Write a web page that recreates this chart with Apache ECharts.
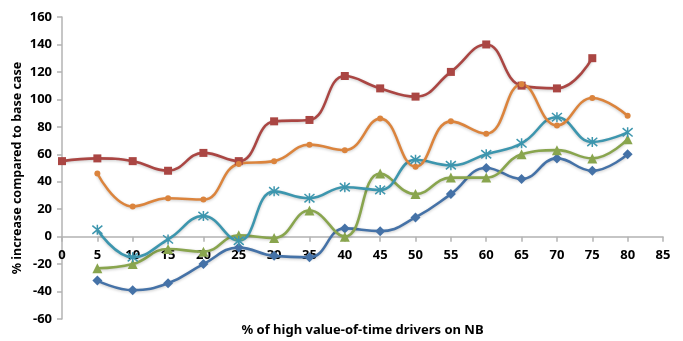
<!DOCTYPE html>
<html>
<head>
<meta charset="utf-8">
<script src="https://cdn.jsdelivr.net/npm/echarts@6/dist/echarts.min.js"></script>
<style>
html,body{margin:0;padding:0;background:#fff;}
#c{width:683px;height:341px;}
</style>
</head>
<body>
<div id="c"></div>
<script>
// X positions (% of high value-of-time drivers on NB)
const xFrom5 = [5,10,15,20,25,30,35,40,45,50,55,60,65,70,75,80];
const xFrom0 = [0,5,10,15,20,25,30,35,40,45,50,55,60,65,70,75];
// Series values (% increase compared to base case)
const blueVals   = [-32,-39,-34,-20,-8,-14,-15,6,4,14,31,50,42,57,48,60];
const redVals    = [55,57,55,48,61,55,84,85,117,108,102,120,140,110,108,130];
const greenVals  = [-23,-20,-9,-11,1,-1,19,0,46,31,43,43,60,63,57,71];
const tealVals   = [5,-15,-2,15,-3,33,28,36,34,56,52,60,68,87,69,76];
const orangeVals = [46,22,28,27,53,55,67,63,86,51,84,75,111,81,101,88];
// Axis settings
const xMin = 0, xMax = 85, xStep = 5;
const yMin = -60, yMax = 160, yStep = 20;
const xTitle = '% of high value-of-time drivers on NB';
const yTitle = '% increase compared to base case';

const pair = (xs, ys) => xs.map((x, i) => [x, ys[i]]);
const FONT = '"Noto Sans", sans-serif';
const asterisk = 'path://M0,0L10,10M10,0L0,10M5,-1L5,11';

// layout: grid box and offset of the x-axis line up to the y=0 level
const G = { left: 62, right: 20, top: 17, bottom: 22 };
const gridH = 341 - G.top - G.bottom;
const zeroOffset = -gridH * (0 - yMin) / (yMax - yMin);

function mk(name, xs, ys, color, symbol, size, extra) {
  return Object.assign({
    name, type: 'line', data: pair(xs, ys), smooth: 0.45,
    symbol, symbolSize: size,
    lineStyle: { color, width: 2.6, shadowColor: 'rgba(0,0,0,0.22)', shadowBlur: 3, shadowOffsetY: 1 },
    itemStyle: { color, borderColor: color, borderWidth: 0 },
    z: 2
  }, extra || {});
}

const chart = echarts.init(document.getElementById('c'), null, { renderer: 'canvas' });
chart.setOption({
  animation: false,
  backgroundColor: '#fff',
  grid: Object.assign({ containLabel: false, outerBoundsMode: 'none' }, G),
  xAxis: {
    type: 'value', min: xMin, max: xMax, interval: xStep,
    position: 'bottom', offset: zeroOffset,
    axisLine: { onZero: false, lineStyle: { color: '#B3B3B3', width: 1.5 } },
    axisTick: { show: true, inside: false, length: 5, lineStyle: { color: '#B3B3B3', width: 1.5 } },
    axisLabel: { margin: 12, color: '#000', fontFamily: FONT, fontWeight: 'bold', fontSize: 13 },
    splitLine: { show: false },
    name: xTitle, nameLocation: 'middle', nameGap: 87, nameMoveOverlap: false,
    nameTextStyle: { color: '#000', fontFamily: FONT, fontWeight: 'bold', fontSize: 13 }
  },
  yAxis: {
    type: 'value', min: yMin, max: yMax, interval: yStep,
    axisLine: { show: true, onZero: false, lineStyle: { color: '#B3B3B3', width: 1.5 } },
    axisTick: { show: true, length: 5, lineStyle: { color: '#B3B3B3', width: 1.5 } },
    axisLabel: { margin: 10, color: '#000', fontFamily: FONT, fontWeight: 'bold', fontSize: 13 },
    splitLine: { show: false },
    name: yTitle, nameLocation: 'middle', nameGap: 38, nameRotate: 90, nameMoveOverlap: false,
    nameTextStyle: { color: '#000', fontFamily: FONT, fontWeight: 'bold', fontSize: 12.5 }
  },
  series: [
    mk('blue', xFrom5, blueVals, '#4572A7', 'diamond', 10),
    mk('red', xFrom0, redVals, '#AA4643', 'rect', 8),
    mk('green', xFrom5, greenVals, '#89A54E', 'triangle', 10),
    mk('teal', xFrom5, tealVals, '#3D96AE', asterisk, 10, {
      itemStyle: { color: 'none', borderColor: '#3D96AE', borderWidth: 1.5 }
    }),
    mk('orange', xFrom5, orangeVals, '#DB843D', 'circle', 6)
  ]
});
</script>
</body>
</html>
